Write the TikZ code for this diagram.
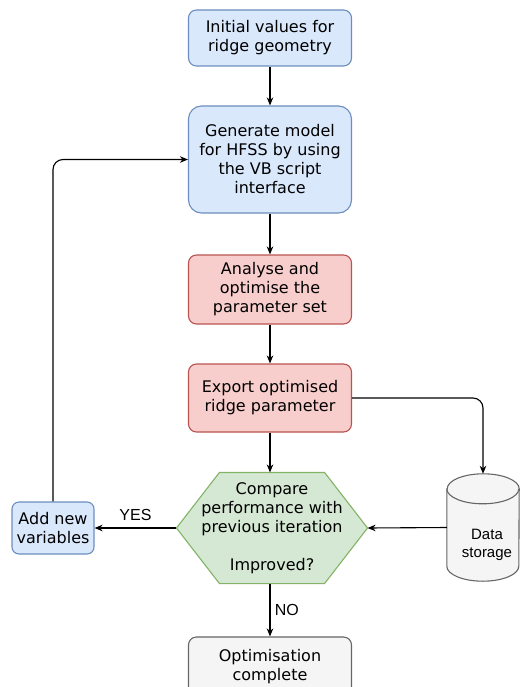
\documentclass[tikz,border=0pt]{standalone}
\usepackage{fontspec}
\setmainfont{DejaVu Sans}
\newfontfamily\hvfont{Liberation Sans}
\usepackage{xcolor}
\usepackage{tikz}
\usetikzlibrary{arrows.meta,positioning,calc,backgrounds}
\definecolor{bf}{HTML}{DAE8FC}
\definecolor{bd}{HTML}{6C8EBF}
\definecolor{rf}{HTML}{F8CECC}
\definecolor{rd}{HTML}{B85450}
\definecolor{gf}{HTML}{D5E8D4}
\definecolor{gd}{HTML}{82B366}
\definecolor{nf}{HTML}{F5F5F5}
\definecolor{nd}{HTML}{666666}
\newcommand{\Lbl}{\hvfont\fontsize{16}{18}\selectfont}
\tikzset{
  box/.style={draw, rounded corners=8pt, line width=1.1pt, align=center, inner sep=0pt,
    minimum width=163pt, font=\fontsize{16}{19}\selectfont},
  bluebox/.style={box, fill=bf, draw=bd},
  redbox/.style={box, fill=rf, draw=rd},
  greybox/.style={box, fill=nf, draw=nd},
  arr/.style={-{Stealth[length=8pt,width=6.5pt,inset=2.5pt]}, line width=1.1pt, black}
}
\begin{document}
\begin{tikzpicture}[x=1pt,y=1pt]
  \useasboundingbox (0,0) rectangle (520,-687);
  \node[bluebox, minimum height=56pt] (init) at (270,-38) {Initial values for\\ridge geometry};
  \node[bluebox, minimum height=107pt, rounded corners=13pt] (gen) at (270,-159.5)
    {Generate model\\for HFSS by using\\the VB script\\interface};
  \node[redbox, minimum height=69pt] (ana) at (270,-289.5) {Analyse and\\optimise the\\parameter set};
  \node[redbox, minimum height=68pt] (exp) at (270,-398) {Export optimised\\ridge parameter};
  \node[box, draw=none, minimum width=190pt, minimum height=110pt] (cmp) at (272,-528)
    {Compare\\performance with\\previous iteration\\[19pt]Improved?};
  \begin{scope}[on background layer]
    \draw[fill=gf, draw=gd, line width=1.1pt]
      ($(cmp.north west)+(43,0)$) -- ($(cmp.north east)+(-43,0)$) -- (cmp.east)
      -- ($(cmp.south east)+(-43,0)$) -- ($(cmp.south west)+(43,0)$) -- (cmp.west) -- cycle;
  \end{scope}
  \node[bluebox, minimum width=82pt, minimum height=52pt, rounded corners=7pt] (add) at (53,-528)
    {Add new\\variables};
  \node[minimum width=72pt, minimum height=107pt, inner sep=0pt] (store) at (483,-527.5) {};
  \draw[fill=nf, draw=nd, line width=1.1pt]
    ($(store.north west)+(0,-15)$) -- ($(store.south west)+(0,15)$) arc (180:360:36 and 15)
    -- ($(store.north east)+(0,-15)$) arc (0:180:36 and 15) -- cycle;
  \draw[draw=nd, line width=1.1pt] ($(store.north west)+(0,-15)$) arc (180:360:36 and 15);
  \node[align=center, font=\hvfont\fontsize{15}{18}\selectfont] (storetxt) at ($(store.center)+(4,-17)$)
    {Data\\storage};
  \node[greybox, minimum height=60pt] (done) at (270,-667) {Optimisation\\complete};

  \draw[arr] (init) -- (gen);
  \draw[arr] (gen) -- (ana);
  \draw[arr] (ana) -- (exp);
  \draw[arr] (exp.south) -- (exp.south |- cmp.north);
  \draw[arr, rounded corners=10pt] (exp.east) -| (store.north);
  \draw[arr] (store.west) -- (cmp.east);
  \draw[arr] (cmp.west) -- node[above=3pt, font=\Lbl] (yes) {YES} (add.east);
  \draw[arr, rounded corners=10pt] (add.north) |- (gen.west);
  \draw[arr] (exp.south |- cmp.south) -- node[right=1pt, font=\Lbl] (no) {NO} (done.north);
\end{tikzpicture}
\end{document}
